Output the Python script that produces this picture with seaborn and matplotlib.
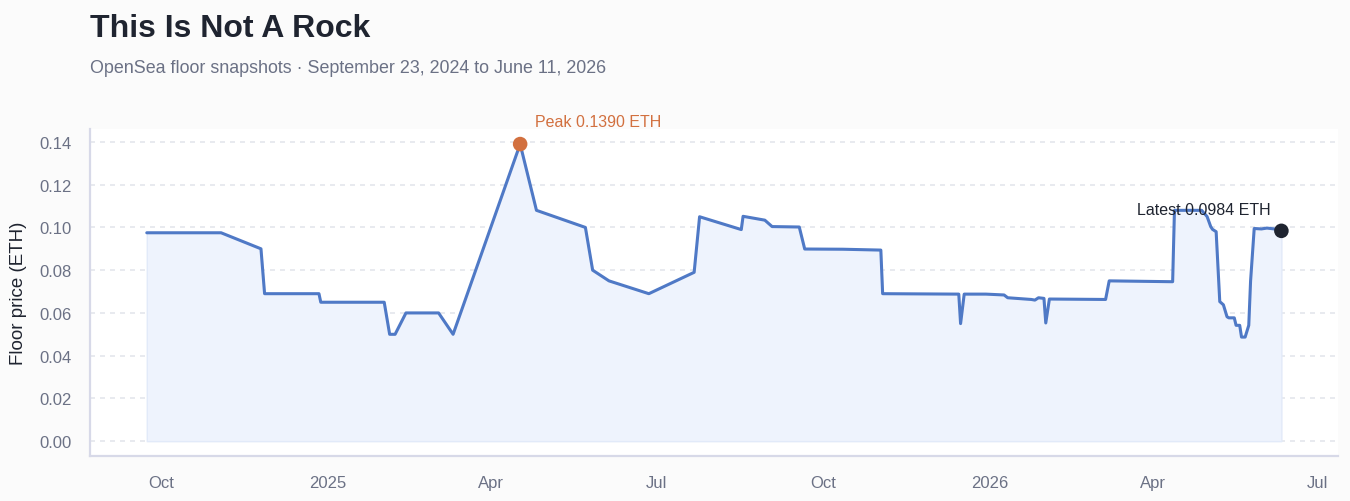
import matplotlib
matplotlib.use("Agg")
import matplotlib.pyplot as plt
import matplotlib.dates as mdates
import matplotlib.ticker as mticker
import seaborn as sns
import pandas as pd
import numpy as np

# ---------------- data ----------------
snapshot_dates = [
    "2024-09-23", "2024-11-03", "2024-11-25", "2024-11-27", "2024-12-27",
    "2024-12-28", "2025-02-01", "2025-02-04", "2025-02-07", "2025-02-13",
    "2025-03-03", "2025-03-11", "2025-04-17", "2025-04-26", "2025-05-23",
    "2025-05-27", "2025-06-05", "2025-06-27", "2025-07-22", "2025-07-25",
    "2025-08-17", "2025-08-18", "2025-08-30", "2025-09-03", "2025-09-18",
    "2025-09-21", "2025-10-12", "2025-11-02", "2025-11-03", "2025-12-15",
    "2025-12-16", "2025-12-18", "2025-12-30", "2026-01-09", "2026-01-11",
    "2026-01-24", "2026-01-26", "2026-01-28", "2026-01-31", "2026-02-01",
    "2026-02-03", "2026-03-06", "2026-03-08", "2026-04-12", "2026-04-13",
    "2026-04-28", "2026-05-01", "2026-05-03", "2026-05-04", "2026-05-06",
    "2026-05-08", "2026-05-10", "2026-05-12", "2026-05-13", "2026-05-16",
    "2026-05-17", "2026-05-19", "2026-05-20", "2026-05-22", "2026-05-24",
    "2026-05-25", "2026-05-27", "2026-05-31", "2026-06-03", "2026-06-09",
    "2026-06-11",
]
floor_eth = [
    0.0975, 0.0975, 0.0900, 0.0690, 0.0690,
    0.0650, 0.0650, 0.0500, 0.0500, 0.0600,
    0.0600, 0.0500, 0.1390, 0.1080, 0.1000,
    0.0800, 0.0750, 0.0690, 0.0790, 0.1050,
    0.0990, 0.1052, 0.1034, 0.1004, 0.1002,
    0.0899, 0.0898, 0.0894, 0.0690, 0.0688,
    0.0550, 0.0688, 0.0688, 0.0684, 0.0671,
    0.0663, 0.0660, 0.0671, 0.0668, 0.0553,
    0.0665, 0.0663, 0.0750, 0.0746, 0.1080,
    0.1080, 0.1051, 0.1004, 0.0991, 0.0980,
    0.0653, 0.0638, 0.0582, 0.0577, 0.0577,
    0.0542, 0.0542, 0.0487, 0.0487, 0.0542,
    0.0749, 0.0995, 0.0993, 0.0997, 0.0991,
    0.0984,
]
y_ticks = [0.00, 0.02, 0.04, 0.06, 0.08, 0.10, 0.12, 0.14]

title_text = "This Is Not A Rock"
subtitle_text = "OpenSea floor snapshots \u00b7 September 23, 2024 to June 11, 2026"
y_label = "Floor price (ETH)"

df = pd.DataFrame({"date": pd.to_datetime(snapshot_dates), "floor": floor_eth})

# ---------------- style ----------------
BG = "#fbfbfb"
LINE = "#4f79c6"
FILL = "#eef3fd"
PEAK = "#d2703f"
DARK = "#1f2430"
GREY = "#6b7185"
SPINE = "#d7d9e8"
GRID = "#e4e6ec"

sns.set_theme(style="white")
plt.rcParams["font.family"] = ["Liberation Sans", "DejaVu Sans"]

fig = plt.figure(figsize=(13.5, 5.02), dpi=100, facecolor=BG)
ax = fig.add_axes([0.0667, 0.0896, 0.9245, 0.651])
ax.set_facecolor("white")

ax.fill_between(df["date"], df["floor"], 0, facecolor=FILL, linewidth=1.0,
                edgecolor="#e2eaf9")
sns.lineplot(data=df, x="date", y="floor", ax=ax, color=LINE, linewidth=2.2)

# peak and latest markers
ipk = int(np.argmax(df["floor"].values))
pk = df.iloc[ipk]
last = df.iloc[-1]
sns.scatterplot(x=[pk["date"]], y=[pk["floor"]], ax=ax, color=PEAK, s=110,
                edgecolor="none", zorder=5)
sns.scatterplot(x=[last["date"]], y=[last["floor"]], ax=ax, color=DARK, s=110,
                edgecolor="none", zorder=5)
ax.annotate(f"Peak {pk['floor']:.4f} ETH", (pk["date"], pk["floor"]),
            xytext=(11, 11), textcoords="offset points", ha="left", va="bottom",
            color=PEAK, fontsize=11.5)
ax.annotate(f"Latest {last['floor']:.4f} ETH", (last["date"], last["floor"]),
            xytext=(-8, 10), textcoords="offset points", ha="right", va="bottom",
            color=DARK, fontsize=11.5)

# axes
ax.margins(x=0.05, y=0.05)
ax.set_yticks(y_ticks)
ax.yaxis.set_major_formatter(mticker.FormatStrFormatter("%.2f"))
ax.xaxis.set_major_locator(mdates.MonthLocator(bymonth=[1, 4, 7, 10]))
ax.xaxis.set_major_formatter(mticker.FuncFormatter(
    lambda v, p: (mdates.num2date(v).strftime("%Y") if mdates.num2date(v).month == 1
                  else mdates.num2date(v).strftime("%b"))))
ax.tick_params(axis="both", length=0, labelsize=12, labelcolor=GREY)
ax.tick_params(axis="y", pad=13)
ax.tick_params(axis="x", pad=14)
ax.grid(axis="y", color=GRID, linestyle=(0, (3, 3)), linewidth=1.2)
ax.grid(axis="x", visible=False)
ax.set_xlabel("")
ax.set_ylabel(y_label, fontsize=13.5, color=DARK, labelpad=9)
for s in ["top", "right"]:
    ax.spines[s].set_visible(False)
for s in ["left", "bottom"]:
    ax.spines[s].set_color(SPINE)
    ax.spines[s].set_linewidth(1.6)

fig.text(0.0667, 1 - 37 / 502, title_text, fontsize=23, fontweight="bold",
         color=DARK, ha="left", va="baseline")
fig.text(0.0667, 1 - 73 / 502, subtitle_text, fontsize=12.9, color=GREY,
         ha="left", va="baseline")

fig.savefig("out.png", dpi=100, facecolor=BG)
